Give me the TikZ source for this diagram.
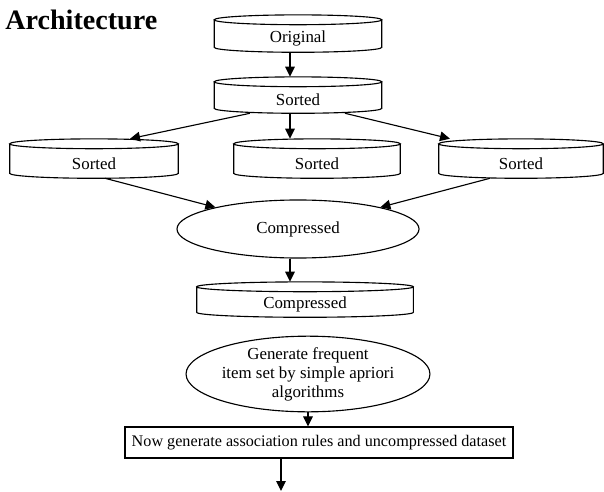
\documentclass[tikz,border=0pt]{standalone}
\usepackage{fontspec}
\setmainfont{Liberation Serif}
\usetikzlibrary{arrows.meta,positioning,calc,shapes.geometric}

\newcommand{\dry}{3.5pt}
\newcommand{\diskoutline}[1]{%
  \draw[diskline] let \p1=(#1.north west), \p2=(#1.south east) in
    (\x1,{\y1+\dry}) -- (\x1,{\y2+\dry})
    arc[start angle=180, end angle=360, x radius={0.5*\x2-0.5*\x1}, y radius=\dry]
    -- (\x2,{\y1+\dry})
    ({0.5*\x1+0.5*\x2},{\y1+\dry}) ellipse[x radius={0.5*\x2-0.5*\x1}, y radius=\dry];}

\begin{document}
\begin{tikzpicture}[x=0.025cm, y=-0.025cm,
    diskline/.style={line width=0.8pt},
    disk/.style={inner sep=0pt, font=\fontsize{12}{14}\selectfont},
    oval/.style={draw, ellipse, line width=0.8pt, inner sep=0pt, align=center, font=\fontsize{12}{13.5}\selectfont},
    box/.style={draw, rectangle, line width=0.8pt, inner sep=0pt, font=\fontsize{11.5}{13}\selectfont},
    arr/.style={-{Triangle[length=2.5mm,width=2.4mm]}, line width=0.8pt}
]
\useasboundingbox (0,0) rectangle (604,492);
\node[anchor=base west, inner sep=0pt, font=\fontsize{20}{24}\bfseries\selectfont] (title) at (5,30) {Architecture};
\node[disk, minimum width=4.175cm, minimum height=0.675cm] (orig) at (298,38.5) {Original};
\node[disk, minimum width=4.175cm, minimum height=0.65cm] (sort) at (298,100) {Sorted};
\node[disk, minimum width=4.2cm, minimum height=0.725cm] (sortl) at (94,163.5) {Sorted};
\node[disk, minimum width=4.15cm, minimum height=0.725cm] (sortm) at (317,163.5) {Sorted};
\node[disk, minimum width=4.1cm, minimum height=0.725cm] (sortr) at (521,163.5) {Sorted};
\node[oval, minimum width=6.05cm, minimum height=1.45cm] (compell) at (298,229) {Compressed};
\node[disk, minimum width=5.4cm, minimum height=0.625cm] (comp) at (305,304.5) {Compressed};
\node[oval, minimum width=5.625cm, minimum height=1.425cm] (gen) at (308,374) {Generate frequent\\item set by simple apriori\\algorithms};
\node[box, minimum width=9.7cm, minimum height=0.775cm] (rule) at (319,442.5) {Now generate association rules and uncompressed dataset};
\coordinate (tail) at (281,491);
\foreach \d in {orig,sort,sortl,sortm,sortr,comp} {\diskoutline{\d}}
\draw[arr, shorten >=0.25cm] ([xshift=-0.2cm]orig.south) -- ([xshift=-0.2cm]orig.south |- sort.north);
\draw[arr] ([xshift=-1.2cm]sort.south) -- ([xshift=0.9cm,yshift=0.25cm]sortl.north);
\draw[arr, shorten >=0.25cm] ([xshift=-0.2cm]sort.south) -- ([xshift=-0.2cm]sort.south |- sortm.north);
\draw[arr] ([xshift=1.175cm]sort.south) -- ([xshift=-1.775cm,yshift=0.25cm]sortr.north);
\draw[arr] ([xshift=0.275cm]sortl.south) -- (compell);
\draw[arr] ([xshift=-0.775cm]sortr.south) -- (compell);
\draw[arr, shorten >=0.25cm] ([xshift=-0.2cm]compell.south) -- ([xshift=-0.2cm]compell.south |- comp.north);
\draw[arr] (gen.south) -- (gen.south |- rule.north);
\draw[arr] (rule.south -| tail) -- (tail);
\end{tikzpicture}
\end{document}
